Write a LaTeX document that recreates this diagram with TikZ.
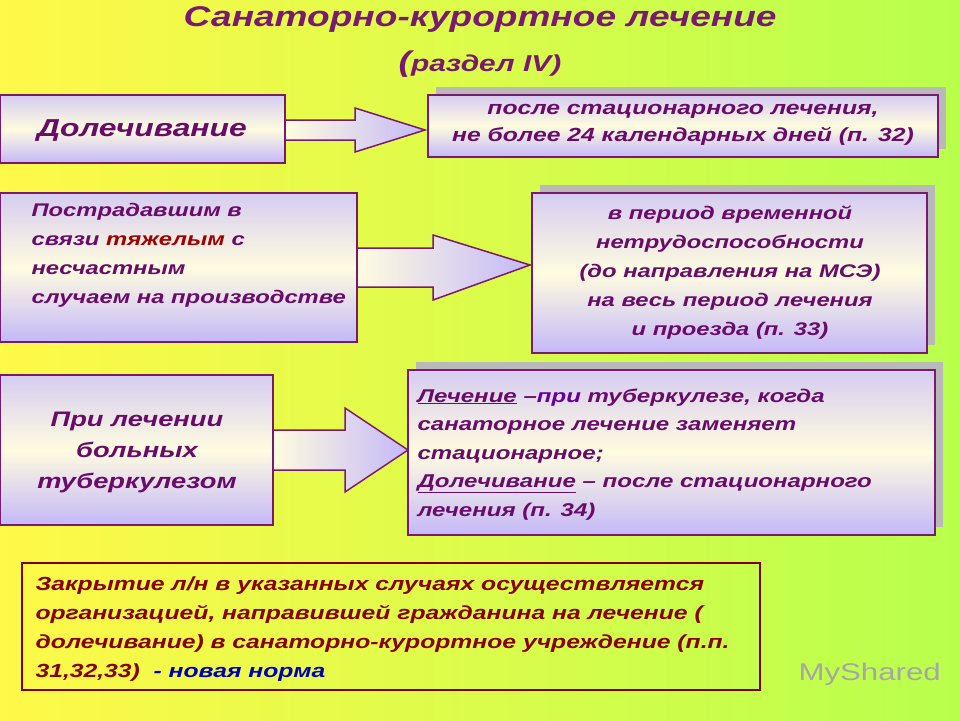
\documentclass[tikz,border=0pt]{standalone}
\usepackage{fontspec}
\setmainfont[FakeStretch=1.3]{Liberation Sans}
\usepackage{xcolor}
\definecolor{bord}{HTML}{7A1A6E}
\definecolor{txt}{HTML}{6A0A6A}
\definecolor{lav}{HTML}{C4B8F8}
\definecolor{crm}{HTML}{FFFCE0}
\definecolor{dred}{HTML}{A00000}
\tikzset{
 box/.style={draw=bord,line width=1.5pt,top color=lav!70!crm,bottom color=lav,middle color=crm},
 shad/.style={fill=gray!55,draw=none},
 arr/.style={draw=bord,line width=1.5pt,left color=crm,right color=lav},
 t/.style={font=\bfseries\itshape,text=txt,align=center},
}
\begin{document}
\begin{tikzpicture}[x=1pt,y=-1pt]
\shade[left color=yellow!70!white!95!orange,right color=yellow!60!green!70!white] (0,0) rectangle (960,720);
\useasboundingbox (0,0) rectangle (960,720);
% title
\node[t,font=\fontsize{28.5}{30}\selectfont\bfseries\itshape,text=bord] (ti) at (480,20) {Санаторно-курортное лечение};
\node[t,font=\fontsize{28.5}{30}\selectfont\bfseries\itshape,text=bord] (t2) at (480,64) {(\fontsize{23}{26}\selectfont раздел IV)};
% row 1
\path[box] (0,95) rectangle (285,163);
\node[t,font=\fontsize{24.5}{28}\selectfont\bfseries\itshape] (a1) at (142,131) {Долечивание};
\path[arr] (285,120) -- (355,120) -- (355,108) -- (425,130) -- (355,152) -- (355,140) -- (285,140) -- cycle;
\path[shad] (436,87) rectangle (946,149);
\path[box] (428,95) rectangle (938,157);
\node[t,font=\fontsize{19}{27}\selectfont\bfseries\itshape] (b1) at (683,125) {после стационарного лечения,\\ не более 24 календарных дней (п. 32)};
% row 2
\path[box] (0,193) rectangle (357,342);
\node[t,align=left,anchor=north west,font=\fontsize{18.3}{29}\selectfont\bfseries\itshape] (a2) at (28,200) {Пострадавшим в\\ связи \textcolor{dred}{тяжелым} с\\ несчастным\\ случаем на производстве};
\path[arr] (357,248) -- (433,248) -- (433,235) -- (530,265) -- (433,300) -- (433,287) -- (357,287) -- cycle;
\path[shad] (540,185) rectangle (935,345);
\path[box] (532,193) rectangle (927,353);
\node[t,font=\fontsize{18.3}{29}\selectfont\bfseries\itshape] (b2) at (730,273) {в период временной\\ нетрудоспособности\\ (до направления на МСЭ)\\ на весь период лечения\\ и проезда (п. 33)};
% row 3
\path[box] (0,375) rectangle (273,525);
\node[t,font=\fontsize{21}{31}\selectfont\bfseries\itshape] (a3) at (137,452) {При лечении\\ больных\\ туберкулезом};
\path[arr] (273,430) -- (345,430) -- (345,408) -- (408,450) -- (345,492) -- (345,470) -- (273,470) -- cycle;
\path[shad] (416,362) rectangle (943,527);
\path[box] (408,370) rectangle (935,535);
\node[t,align=left,anchor=north west,font=\fontsize{18.5}{28.5}\selectfont\bfseries\itshape] (b3) at (414,385) {\underline{Лечение} –\textcolor{violet!80!blue}{при} туберкулезе, когда\\ санаторное лечение заменяет\\ стационарное;\\ \underline{Долечивание} – после стационарного\\ лечения (п. 34)};
% bottom
\draw[dred!80!black,line width=2.5pt] (22,563) rectangle (760,690);
\node[t,align=left,anchor=north west,text=dred!85!black,font=\fontsize{19}{29}\selectfont\bfseries\itshape] (c) at (32,573) {Закрытие л/н в указанных случаях осуществляется\\ организацией, направившей гражданина на лечение (\\ долечивание) в санаторно-курортное учреждение (п.п.\\ 31,32,33) \ \textcolor{blue!70!black}{- новая норма}};
\node[font=\fontsize{24}{28}\selectfont,text=gray!70,anchor=west] (w) at (795,674) {MyShared};
\end{tikzpicture}
\end{document}
